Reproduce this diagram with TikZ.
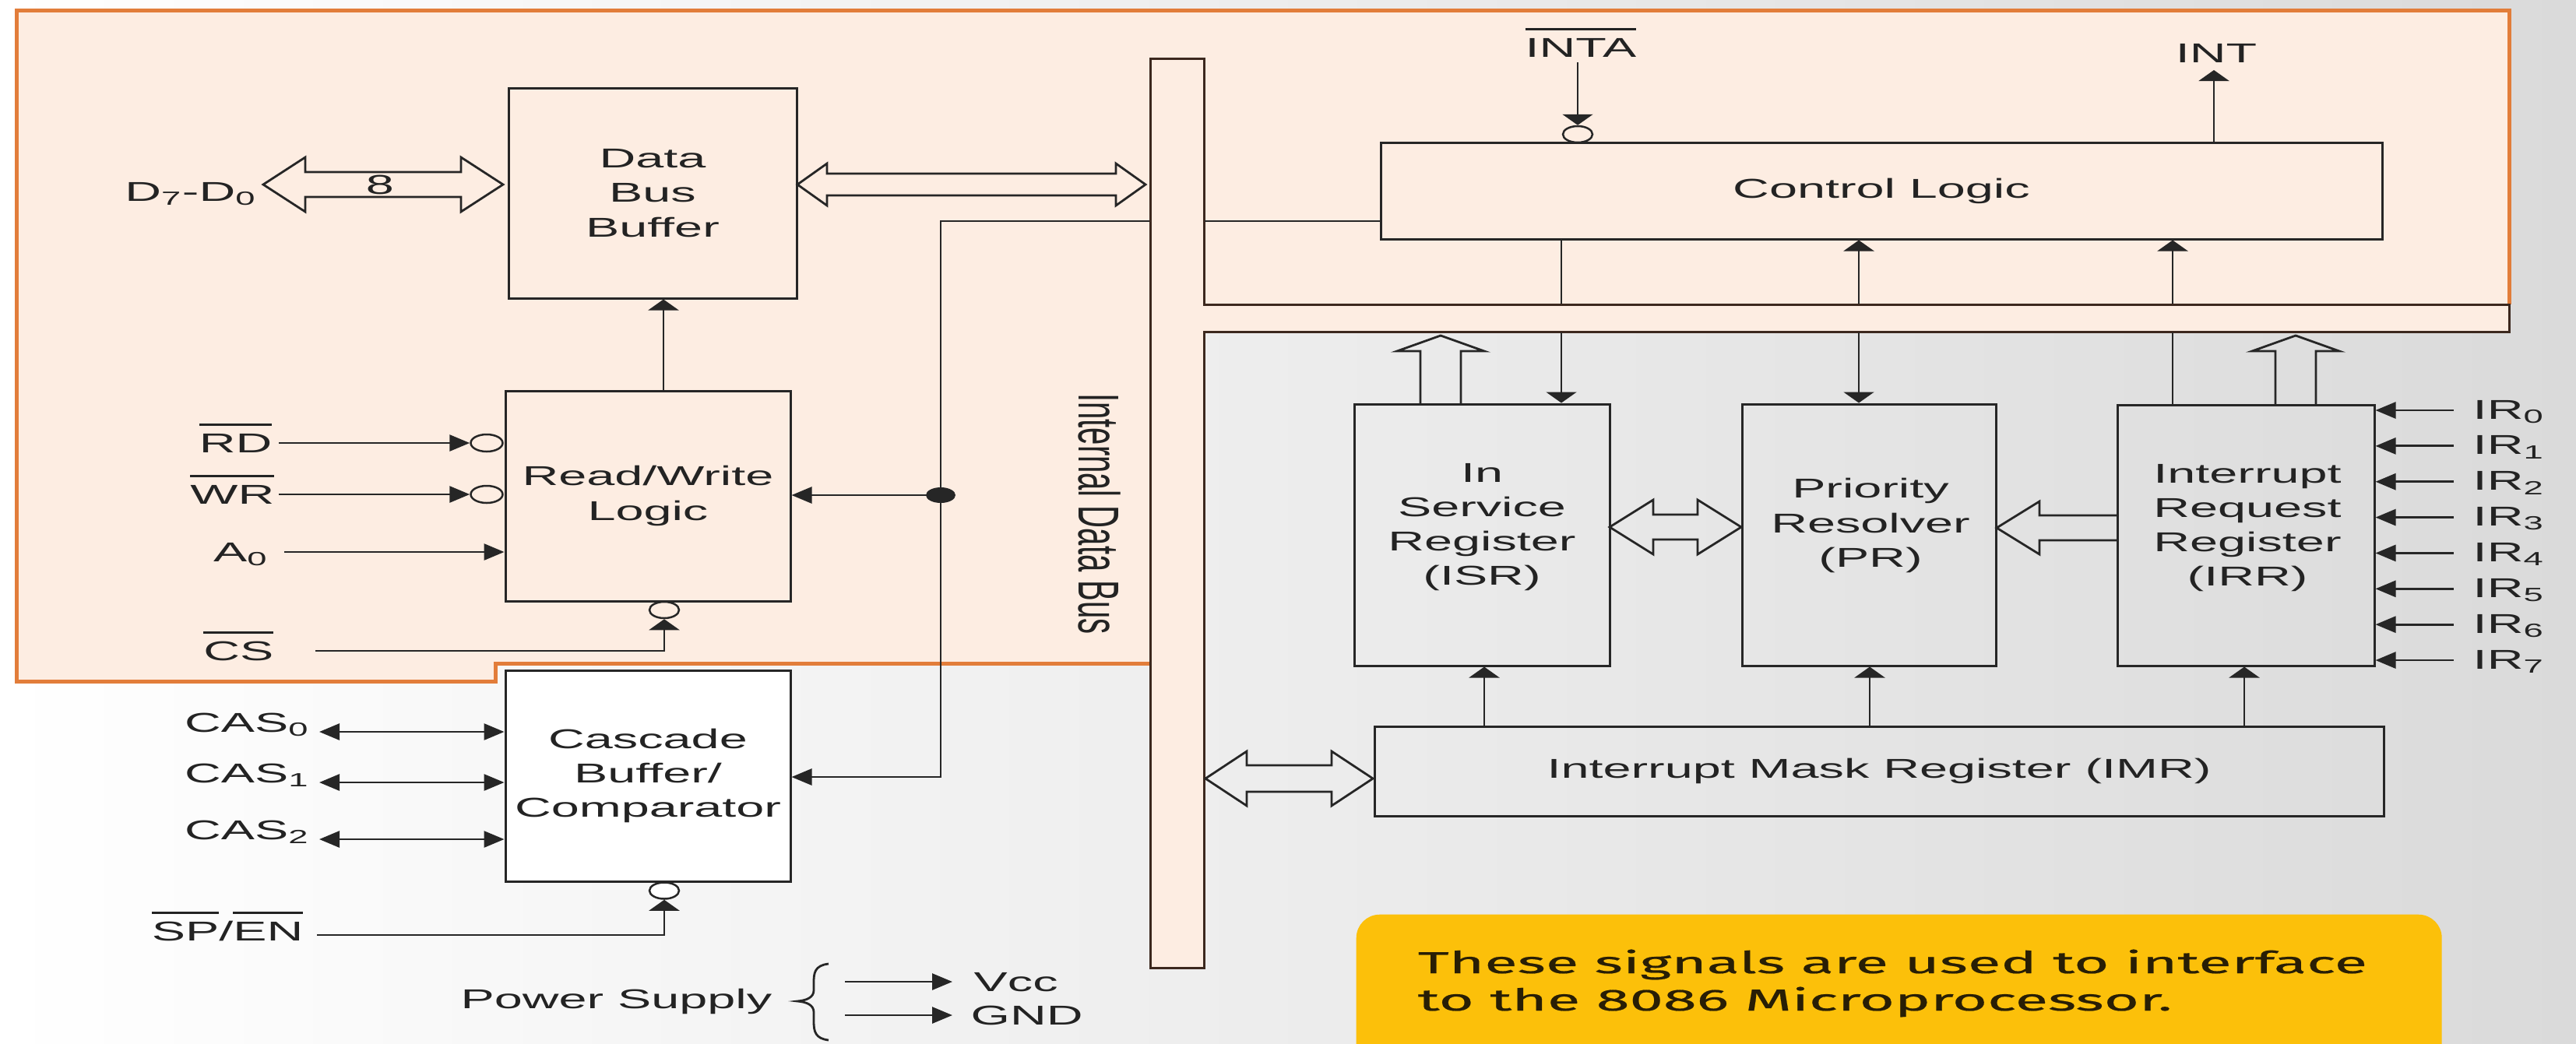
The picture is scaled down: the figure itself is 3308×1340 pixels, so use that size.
\documentclass[tikz,border=0pt]{standalone}
\usepackage{fontspec}
\setmainfont{Liberation Sans}[FakeStretch=1.85]
\newfontfamily\plainsans{Liberation Sans}
\newfontfamily\yfont{Fira Sans}[FakeStretch=1.99,FakeBold=0.5]
\usetikzlibrary{arrows.meta,shapes.geometric,calc}
\definecolor{peach}{RGB}{253,237,226}
\definecolor{orng}{RGB}{226,125,58}
\definecolor{linec}{RGB}{38,38,38}
\definecolor{busc}{RGB}{60,40,30}
\definecolor{gold}{RGB}{252,192,10}
\definecolor{bgr}{RGB}{218,218,218}
\definecolor{txtc}{RGB}{35,35,35}
\definecolor{notec}{RGB}{40,30,5}
\newcommand\ovl[1]{\vbox{\hrule height 0.3mm\kern 1.0mm\hbox{#1}}}
\newcommand\fsz{\fontsize{9.96}{12.6}\selectfont}
\newcommand\hollowH[6]{\draw[hol] (#1,#3) -- ({#1+#4},{#3-#5}) -- ({#1+#4},{#3-#6}) -- ({#2-#4},{#3-#6}) -- ({#2-#4},{#3-#5}) -- (#2,#3) -- ({#2-#4},{#3+#5}) -- ({#2-#4},{#3+#6}) -- ({#1+#4},{#3+#6}) -- ({#1+#4},{#3+#5}) -- cycle;}
\newcommand\hollowL[6]{\draw[hol] (#2,{#3-#6}) -- ({#1+#4},{#3-#6}) -- ({#1+#4},{#3-#5}) -- (#1,#3) -- ({#1+#4},{#3+#5}) -- ({#1+#4},{#3+#6}) -- (#2,{#3+#6});}
\newcommand\hollowU[6]{\draw[hol] ({#1-#6},#3) -- ({#1-#6},{#2+#4}) -- ({#1-#5},{#2+#4}) -- (#1,#2) -- ({#1+#5},{#2+#4}) -- ({#1+#6},{#2+#4}) -- ({#1+#6},#3);}
\begin{document}
\begin{tikzpicture}[x=0.1mm,y=-0.1mm,font=\fsz,
  box/.style={draw=linec,line width=0.3mm,inner sep=0pt,text=txtc},
  lbl/.style={inner sep=0pt,text=txtc},
  ln/.style={draw=linec,line width=0.28mm},
  harr/.style={ln,-{Triangle[length=2.6mm,width=2.1mm]}},
  varr/.style={ln,-{Triangle[length=1.4mm,width=3.9mm]}},
  dharr/.style={ln,{Triangle[length=2.6mm,width=2.1mm]}-{Triangle[length=2.6mm,width=2.1mm]}},
  bub/.style={ellipse,draw=linec,line width=0.25mm,inner sep=0pt,minimum width=4.1mm,minimum height=2.2mm,fill=peach},
  vbub/.style={bub,minimum width=3.8mm,minimum height=2.1mm},
  jdotst/.style={ellipse,fill=linec,inner sep=0pt,minimum width=3.8mm,minimum height=2mm},
  hol/.style={draw=linec,line width=0.28mm,line join=miter},
  anchorbox/.style={inner sep=0pt,draw=none}]
\useasboundingbox (0,0) rectangle (3308,1340);
\shade[left color=white,right color=bgr] (0,0) rectangle (3308,1340);
% peach region
\fill[peach] (21,13) -- (3222,13) -- (3222,426) -- (1546,426) -- (1546,1243) -- (1477,1243) -- (1477,852) -- (636,852) -- (636,875) -- (21,875) -- cycle;
% yellow note
\node[fill=gold,rounded corners=3mm,minimum width=139.4mm,minimum height=20mm,anchor=north west,inner sep=0pt] (note) at (1741,1174) {};
% region outlines
\draw[orng,line width=0.5mm,line join=miter] (3222,391) -- (3222,13) -- (21,13) -- (21,875) -- (636,875) -- (636,852) -- (1477,852);
\draw[busc,line width=0.3mm,line join=miter] (1546,391) -- (1546,75) -- (1477,75) -- (1477,1243) -- (1546,1243) -- (1546,426) -- (3222,426) -- (3222,391) -- cycle;
\node[anchorbox,minimum width=6.9mm,minimum height=116.8mm] (bus) at (1511.5,659) {};
\node[anchorbox,minimum width=167.6mm,minimum height=3.5mm] (chan) at (2384,408.5) {};
\node[lbl,rotate=-90,font=\plainsans\fontsize{11.4}{13}\selectfont] (busT) at (1412,660) {\scalebox{1}[1.85]{Internal Data Bus}};
% boxes
\node[box,minimum width=37mm,minimum height=27mm,align=center] (dbb) at (838,248) {Data\\Bus\\Buffer};
\node[box,minimum width=36.6mm,minimum height=27mm,align=center] (rw) at (832,637) {Read/Write\\Logic};
\node[box,minimum width=36.6mm,minimum height=27.1mm,align=center,fill=white] (casc) at (832,996.5) {Cascade\\Buffer/\\Comparator};
\node[box,minimum width=128.6mm,minimum height=12.4mm] (cl) at (2416,245) {Control Logic};
\node[box,minimum width=32.8mm,minimum height=33.6mm] (isr) at (1903,687) {};
\node[lbl,align=center] (isrT) at (1903,677) {In\\Service\\Register\\(ISR)};
\node[box,minimum width=32.6mm,minimum height=33.6mm] (pr) at (2400,687) {};
\node[lbl,align=center] (prT) at (2402,675) {Priority\\Resolver\\(PR)};
\node[box,minimum width=33mm,minimum height=33.5mm] (irr) at (2884,687.5) {};
\node[lbl,align=center] (irrT) at (2886,678) {Interrupt\\Request\\Register\\(IRR)};
\node[box,minimum width=129.6mm,minimum height=11.5mm] (imr) at (2413,990.5) {Interrupt Mask Register (IMR)};
% hollow bus arrows
\hollowH{338}{646}{237}{54}{35}{16}
\node[lbl] (eight) at (488,237) {8};
\hollowH{1024}{1471}{237}{38}{27}{14}
\hollowH{2067}{2236}{677}{56}{35}{16}
\hollowL{2564}{2719}{678}{55}{34}{16}
\hollowH{1548}{1763}{1000}{53}{35}{17}
\hollowU{1850}{431}{519}{20}{56}{26}
\hollowU{2948}{431}{520}{20}{56}{26}
% left labels
\node[lbl,anchor=base east] (d70) at (330,258) {D\textsubscript{7}-D\textsubscript{0}};
\node[lbl,anchor=base east] (rdL) at (350,581) {\ovl{RD}};
\node[lbl,anchor=base east] (wrL) at (353,647) {\ovl{WR}};
\node[lbl,anchor=base east] (a0L) at (345,721) {A\textsubscript{0}};
\node[lbl,anchor=base east] (csL) at (352,848) {\ovl{CS}};
\node[lbl,anchor=base east] (speL) at (390,1208) {\ovl{SP}/\ovl{EN}};
% bubbles
\node[bub] (rdB) at (625,569) {};
\node[bub] (wrB) at (625,635) {};
\node[vbub] (csB) at (853,783.5) {};
\node[vbub,fill=white] (speB) at (853,1144) {};
\node[vbub] (intaB) at (2026,172.5) {};
% left connectors
\coordinate (rdS) at (358,569);
\draw[harr] (rdS) -- (rdB.west);
\coordinate (wrS) at (358,635);
\draw[harr] (wrS) -- (wrB.west);
\coordinate (a0S) at (365,709);
\draw[harr] (a0S) -- (a0S -| rw.west);
\coordinate (csS) at (405,836);
\draw[varr] (csS) -| (csB.south);
\coordinate (speS) at (407,1201);
\draw[varr] (speS) -| (speB.south);
\coordinate (rwx) at (852,0);
\draw[varr] (rwx |- rw.north) -- (rwx |- dbb.south);
\foreach \i/\yy in {0/940,1/1005,2/1078}{
  \coordinate (casS\i) at (410,\yy);
  \draw[dharr] (casS\i) -- (casS\i -| casc.west);
  \node[lbl,anchor=base east] (casL\i) at (398,\yy) {CAS\textsubscript{\i}};
}
% internal bus taps
\coordinate (tap) at (1208,284);
\node[jdotst] (jdot) at (1208,636) {};
\coordinate (casin) at (1208,998);
\draw[ln] (tap -| bus.west) -- (tap) -- (jdot.center);
\draw[harr] (jdot.center) -- (jdot.center -| rw.east);
\draw[harr] (jdot.center) -- (casin) -- (casin -| casc.east);
\draw[ln] (tap -| bus.east) -- (tap -| cl.west);
% INTA / INT
\node[lbl,anchor=base] (intaL) at (2030,73) {\ovl{INTA}};
\coordinate (intaS) at (2026,80);
\draw[varr] (intaS) -- (intaB.north);
\node[lbl,anchor=base] (intL) at (2846,80) {INT};
\coordinate (intE) at (2843,90);
\draw[varr] (intE |- cl.north) -- (intE);
% control logic to registers
\coordinate (cx1) at (2005,0);
\coordinate (cx2) at (2387,0);
\coordinate (cx3) at (2790,0);
\draw[ln] (cx1 |- cl.south) -- (cx1 |- chan.north);
\draw[varr] (cx1 |- chan.south) -- (cx1 |- isr.north);
\draw[varr] (cx2 |- chan.north) -- (cx2 |- cl.south);
\draw[varr] (cx2 |- chan.south) -- (cx2 |- pr.north);
\draw[varr] (cx3 |- chan.north) -- (cx3 |- cl.south);
\draw[ln] (cx3 |- chan.south) -- (cx3 |- irr.north);
% IMR to registers
\coordinate (mx1) at (1906,0);
\coordinate (mx2) at (2401,0);
\coordinate (mx3) at (2882,0);
\draw[varr] (mx1 |- imr.north) -- (mx1 |- isr.south);
\draw[varr] (mx2 |- imr.north) -- (mx2 |- pr.south);
\draw[varr] (mx3 |- imr.north) -- (mx3 |- irr.south);
% IR inputs
\foreach \i in {0,...,7}{
  \pgfmathsetmacro\yy{527+45.86*\i}
  \coordinate (irS\i) at (3151,\yy);
  \draw[harr] (irS\i) -- (irS\i -| irr.east);
  \node[lbl,anchor=base west] (irL\i) at (3175,\yy+11) {IR\textsubscript{\i}};
}
% power supply
\node[lbl,anchor=base east] (psL) at (992,1295) {Power Supply};
\draw[ln] (1064,1238) .. controls (1046,1240) and (1045,1250) .. (1045,1262) -- (1045,1272) .. controls (1045,1281) and (1036,1285) .. (1024,1286) .. controls (1036,1287) and (1045,1291) .. (1045,1300) -- (1045,1312) .. controls (1045,1325) and (1047,1334) .. (1064,1336);
\node[lbl,anchor=base west] (vccL) at (1250,1273) {Vcc};
\node[lbl,anchor=base west] (gndL) at (1246,1316) {GND};
\coordinate (pwS1) at (1085,1261);
\coordinate (pwE1) at (1223,1261);
\coordinate (pwS2) at (1085,1304);
\coordinate (pwE2) at (1223,1304);
\draw[harr] (pwS1) -- (pwE1);
\draw[harr] (pwS2) -- (pwE2);
% note text
\node[lbl,anchor=base west,text=notec,font=\yfont\fontsize{11.1}{13.6}\selectfont] (noteT1) at (1820,1250) {These signals are used to interface};
\node[lbl,anchor=base west,text=notec,font=\yfont\fontsize{11.1}{13.6}\selectfont] (noteT2) at (1820,1298) {to the 8086 Microprocessor.};
\end{tikzpicture}
\end{document}
